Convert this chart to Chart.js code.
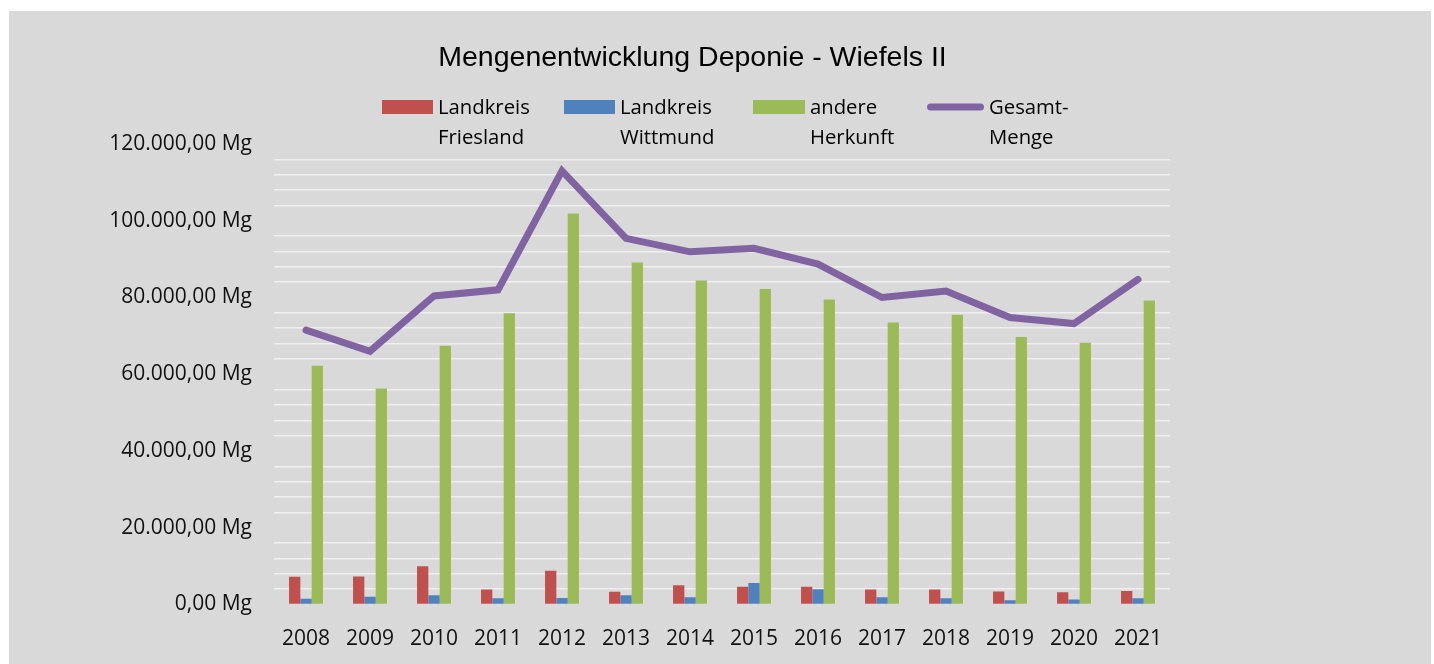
<!DOCTYPE html>
<html>
<head>
<meta charset="utf-8">
<script src="https://cdn.jsdelivr.net/npm/chart.js@4.4.1/dist/chart.umd.min.js"></script>
<style>
  html, body { margin: 0; padding: 0; background: #ffffff; }
  #wrap { position: absolute; left: 9px; top: 11px; width: 1422px; height: 653px; background: #d9d9d9; }
  canvas { display: block; }
</style>
</head>
<body>
<div id="wrap"><canvas id="c" width="1422" height="653"></canvas></div>
<script>
const chartTitle = 'Mengenentwicklung Deponie - Wiefels II';
const years = ['2008','2009','2010','2011','2012','2013','2014','2015','2016','2017','2018','2019','2020','2021'];
const friesland = [7200, 7300, 10000, 3900, 8800, 3300, 5000, 4600, 4600, 3900, 3900, 3400, 3200, 3500];
const wittmund  = [1500, 2000, 2400, 1600, 1700, 2400, 1900, 5600, 4000, 1900, 1600, 1100, 1300, 1600];
const andere    = [62200, 56300, 67400, 75900, 101900, 89100, 84400, 82200, 79500, 73500, 75500, 69700, 68200, 79200];
const gesamt    = [71500, 66000, 80400, 82000, 113000, 95400, 91900, 92800, 88700, 80000, 81700, 74800, 73200, 84700];
const seriesNames = [['Landkreis','Friesland'], ['Landkreis','Wittmund'], ['andere','Herkunft'], ['Gesamt-','Menge']];
const majorTicks = [0, 20000, 40000, 60000, 80000, 100000, 120000];

const colRed = '#c0504d', colBlue = '#4f81bd', colGreen = '#9bbb59', colPurple = '#8064a2';

function fmt(v) {
  const s = Math.round(v).toString().replace(/\B(?=(\d{3})+(?!\d))/g, '.');
  return s + ',00 Mg';
}

const overlay = {
  id: 'overlay',
  afterDraw(chart) {
    const ctx = chart.ctx;
    ctx.save();
    // title
    ctx.fillStyle = '#000000';
    ctx.font = '28.5px "Liberation Sans", Arial, sans-serif';
    ctx.textAlign = 'center';
    ctx.textBaseline = 'alphabetic';
    ctx.fillText(chartTitle, 683.5, 55);
    // legend
    const items = [
      {type: 'box', color: colRed, x0: 373, x1: 424},
      {type: 'box', color: colBlue, x0: 555, x1: 606},
      {type: 'box', color: colGreen, x0: 744, x1: 796},
      {type: 'line', color: colPurple, x0: 918, x1: 975}
    ];
    ctx.font = '20.3px "Open Sans", sans-serif';
    ctx.textAlign = 'left';
    items.forEach((it, i) => {
      if (it.type === 'box') {
        ctx.fillStyle = it.color;
        ctx.fillRect(it.x0, 89, it.x1 - it.x0, 14);
      } else {
        ctx.strokeStyle = it.color;
        ctx.lineWidth = 7;
        ctx.lineCap = 'round';
        ctx.beginPath();
        ctx.moveTo(it.x0 + 3.5, 96);
        ctx.lineTo(it.x1 - 3.5, 96);
        ctx.stroke();
      }
      ctx.fillStyle = '#000000';
      const tx = it.x1 + 5;
      ctx.fillText(seriesNames[i][0], tx, 102.5);
      ctx.fillText(seriesNames[i][1], tx, 132.5);
    });
    ctx.restore();
  }
};

new Chart(document.getElementById('c'), {
  type: 'bar',
  data: {
    labels: years,
    datasets: [
      {label: seriesNames[0].join(' '), data: friesland, backgroundColor: colRed, order: 1, barPercentage: 1, categoryPercentage: 0.53},
      {label: seriesNames[1].join(' '), data: wittmund, backgroundColor: colBlue, order: 1, barPercentage: 1, categoryPercentage: 0.53},
      {label: seriesNames[2].join(' '), data: andere, backgroundColor: colGreen, order: 1, barPercentage: 1, categoryPercentage: 0.53},
      {type: 'line', label: seriesNames[3].join(''), data: gesamt, borderColor: colPurple, backgroundColor: colPurple,
       borderWidth: 7, pointRadius: 0, pointHoverRadius: 0, tension: 0, order: 0,
       borderCapStyle: 'round', borderJoinStyle: 'miter', fill: false}
    ]
  },
  options: {
    responsive: false,
    animation: false,
    events: [],
    layout: {padding: {top: 133, right: 261, bottom: 0, left: 0}},
    plugins: {
      legend: {display: false},
      title: {display: false},
      tooltip: {enabled: false}
    },
    scales: {
      x: {
        grid: {display: false, drawTicks: false},
        border: {display: false},
        ticks: {font: {family: '"Open Sans", sans-serif', size: 21}, color: '#111111', padding: 22, maxRotation: 0},
        afterFit(scale) { scale.height = 59.5; }
      },
      y: {
        min: 0, max: 120000,
        grid: {
          drawTicks: false,
          lineWidth: 1.5,
          color: (c) => (c.tick && majorTicks.includes(c.tick.value)) ? 'rgba(0,0,0,0)' : '#efefef'
        },
        border: {display: false},
        ticks: {
          stepSize: 4000,
          autoSkip: false,
          padding: 22,
          font: {family: '"Open Sans", sans-serif', size: 21},
          color: '#111111',
          callback: (v) => majorTicks.includes(v) ? fmt(v) : ''
        },
        afterFit(scale) { scale.width = 265; }
      }
    }
  },
  plugins: [overlay]
});
</script>
</body>
</html>
